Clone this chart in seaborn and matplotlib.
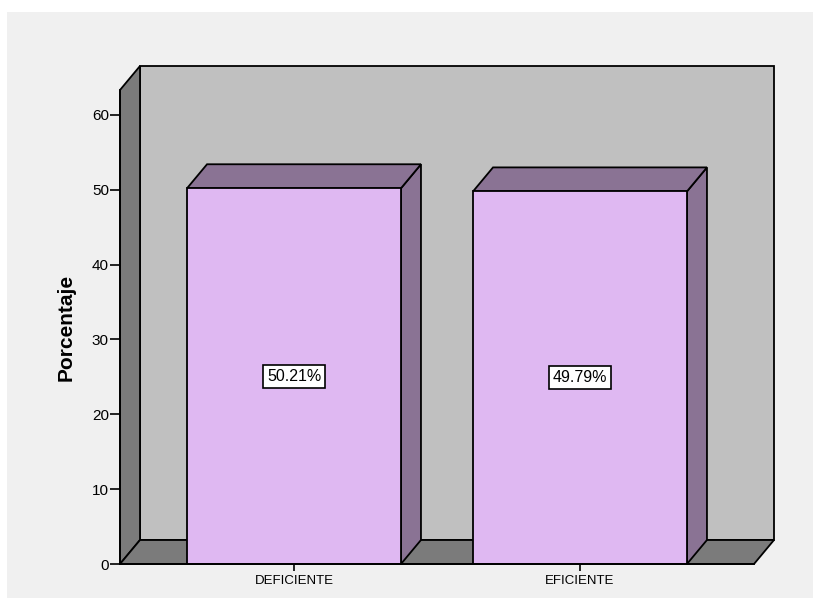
import matplotlib
matplotlib.use("Agg")
import matplotlib.pyplot as plt
from matplotlib.patches import Polygon, Rectangle
import seaborn as sns
import pandas as pd

# Data
categories = ["DEFICIENTE", "EFICIENTE"]
percentages = [50.21, 49.79]
value_labels = ["50.21%", "49.79%"]
y_ticks = [0, 10, 20, 30, 40, 50, 60]

plt.rcParams["font.family"] = ["Liberation Sans", "DejaVu Sans"]

W, H = 815, 598
fig = plt.figure(figsize=(W / 100, H / 100), dpi=100, facecolor="white")

# light gray panel behind the chart
fig.patches.append(Rectangle((7 / W, 0), 806 / W, (H - 12) / H,
                             transform=fig.transFigure, facecolor="#f0f0f0",
                             edgecolor="none", zorder=-10))

ax = fig.add_axes([120 / W, 34 / H, 634 / W, 474 / H])
ax.patch.set_visible(False)

x0, x1 = -0.6084, 1.6084
y0, y1 = 0, 63.34

# depth of the 3-D effect, in pixels, converted to data units
depth_px_x, depth_px_y = 20, 24
ddx = depth_px_x * (x1 - x0) / 634
ddy = depth_px_y * (y1 - y0) / 474

wall_kw = dict(edgecolor="black", linewidth=1.3, joinstyle="miter", clip_on=False)

df = pd.DataFrame({"Categoria": categories, "Porcentaje": percentages})
sns.barplot(data=df, x="Categoria", y="Porcentaje", order=categories,
            color="#dfb8f2", saturation=1, width=0.748, ax=ax,
            edgecolor="black", linewidth=1.3, zorder=3)
bars = list(ax.containers[0])

ax.set_xlim(x0, x1)
ax.set_ylim(y0, y1)

# back wall
ax.add_patch(Polygon([(x0 + ddx, y0 + ddy), (x1 + ddx, y0 + ddy),
                      (x1 + ddx, y1 + ddy), (x0 + ddx, y1 + ddy)],
                     facecolor="#c0c0c0", zorder=1, **wall_kw))
# left wall
ax.add_patch(Polygon([(x0, y0), (x0, y1), (x0 + ddx, y1 + ddy), (x0 + ddx, y0 + ddy)],
                     facecolor="#7b7b7b", zorder=1.1, **wall_kw))
# floor
ax.add_patch(Polygon([(x0, y0), (x1, y0), (x1 + ddx, y0 + ddy), (x0 + ddx, y0 + ddy)],
                     facecolor="#7b7b7b", zorder=1.1, **wall_kw))

side_color = "#8a7394"
for bar, lab in zip(bars, value_labels):
    bx, bw, bh = bar.get_x(), bar.get_width(), bar.get_height()
    # right side face
    ax.add_patch(Polygon([(bx + bw, 0), (bx + bw + ddx, ddy),
                          (bx + bw + ddx, bh + ddy), (bx + bw, bh)],
                         facecolor=side_color, zorder=2.5, **wall_kw))
    # top face
    ax.add_patch(Polygon([(bx, bh), (bx + bw, bh),
                          (bx + bw + ddx, bh + ddy), (bx + ddx, bh + ddy)],
                         facecolor=side_color, zorder=2.5, **wall_kw))
    ax.text(bx + bw / 2, bh / 2, lab, ha="center", va="center", fontsize=11.5,
            color="black", zorder=5,
            bbox=dict(boxstyle="square,pad=0.25", facecolor="white",
                      edgecolor="black", linewidth=1.2))

ax.set_yticks(y_ticks)
ax.set_yticklabels([str(t) for t in y_ticks])
ax.tick_params(axis="y", direction="out", length=7, width=1.2, labelsize=11,
               pad=1, colors="black")
ax.tick_params(axis="x", direction="out", length=5, width=1.2, labelsize=9.5,
               pad=3, colors="black")

for s in ["top", "right"]:
    ax.spines[s].set_visible(False)
for s in ["left", "bottom"]:
    ax.spines[s].set_linewidth(1.3)
    ax.spines[s].set_zorder(6)

ax.set_xlabel("")
ax.set_ylabel("Porcentaje", fontsize=15, fontweight="bold")
ax.yaxis.set_label_coords(-44 / 634, 0.5)

fig.savefig("out.png", dpi=100, facecolor=fig.get_facecolor())
